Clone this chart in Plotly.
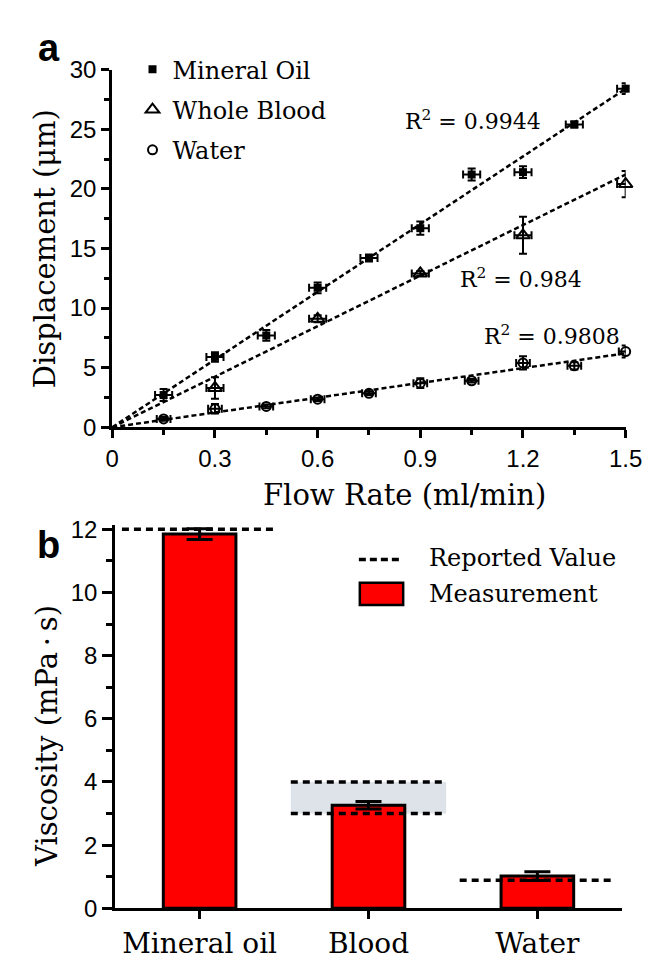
import plotly.graph_objects as go

W, H = 652, 958

# ---------------- data: panel a ----------------
flow = [0.15, 0.3, 0.45, 0.6, 0.75, 0.9, 1.05, 1.2, 1.35, 1.5]
oil_disp = [2.7, 5.9, 7.7, 11.7, 14.2, 16.7, 21.2, 21.4, 25.4, 28.4]
oil_yerr = [0.5, 0.4, 0.45, 0.45, 0.3, 0.55, 0.5, 0.5, 0.25, 0.45]
oil_xerr = [0.025, 0.025, 0.025, 0.025, 0.025, 0.025, 0.025, 0.025, 0.025, 0.025]

blood_flow = [0.3, 0.6, 0.9, 1.2, 1.5]
blood_disp = [3.3, 9.1, 12.9, 16.1, 20.4]
blood_yerr = [0.9, 0.3, 0.2, 1.55, 1.1]
blood_xerr = [0.025, 0.025, 0.025, 0.025, 0.025]

water_disp = [0.7, 1.55, 1.75, 2.35, 2.85, 3.7, 3.9, 5.4, 5.15, 6.35]
water_yerr = [0.15, 0.4, 0.15, 0.15, 0.15, 0.4, 0.15, 0.55, 0.3, 0.5]
water_xerr = [0.02, 0.02, 0.02, 0.02, 0.02, 0.02, 0.02, 0.02, 0.02, 0.02]

fit_x = [0.0, 1.5]
oil_fit = [0.0, 28.4]
blood_fit = [0.0, 21.2]
water_fit = [0.0, 6.2]
r2_texts = ["R<sup>2</sup> = 0.9944", "R<sup>2</sup> = 0.984", "R<sup>2</sup> = 0.9808"]

flow_ticks = [0, 0.3, 0.6, 0.9, 1.2, 1.5]
flow_ticktext = ["0", "0.3", "0.6", "0.9", "1.2", "1.5"]
disp_ticks = [0, 5, 10, 15, 20, 25, 30]

# ---------------- data: panel b ----------------
fluids = ["Mineral oil", "Blood", "Water"]
visc = [11.85, 3.26, 1.02]
visc_err = [0.17, 0.12, 0.14]
reported_lo = [12.0, 3.0, 0.89]
reported_hi = [12.0, 4.0, 0.89]
visc_ticks = [0, 2, 4, 6, 8, 10, 12]

# ---------------- helpers ----------------
def px(x):
    return x / W

def py(y):
    return 1 - y / H

SERIF = "DejaVu Serif"
SANS = "Liberation Sans"
DASH = "5px,3px"

fig = go.Figure()

# fit lines (panel a)
for fy in (oil_fit, blood_fit, water_fit):
    fig.add_trace(go.Scatter(x=fit_x, y=fy, mode="lines", showlegend=False,
                             line=dict(color="black", width=2.5, dash=DASH),
                             xaxis="x", yaxis="y", hoverinfo="skip"))

err_style = dict(color="black", thickness=2, width=4)
fig.add_trace(go.Scatter(
    x=flow, y=oil_disp, mode="markers", name="Mineral Oil", legendgroup="g1",
    marker=dict(symbol="square", size=8, color="black"),
    error_y=dict(type="data", array=oil_yerr, **err_style),
    error_x=dict(type="data", array=oil_xerr, **err_style),
    cliponaxis=False, xaxis="x", yaxis="y"))
fig.add_trace(go.Scatter(
    x=blood_flow, y=blood_disp, mode="markers", name="Whole Blood", legendgroup="g2",
    marker=dict(symbol="triangle-up-open", size=12, color="black", line=dict(width=2, color="black")),
    error_y=dict(type="data", array=blood_yerr, **err_style),
    error_x=dict(type="data", array=blood_xerr, **err_style),
    cliponaxis=False, xaxis="x", yaxis="y"))
fig.add_trace(go.Scatter(
    x=flow, y=water_disp, mode="markers", name="Water", legendgroup="g3",
    marker=dict(symbol="circle-open", size=9, color="black", line=dict(width=2, color="black")),
    error_y=dict(type="data", array=water_yerr, **err_style),
    error_x=dict(type="data", array=water_xerr, **err_style),
    cliponaxis=False, xaxis="x", yaxis="y"))

# panel b bars
bar_x = list(range(len(fluids)))
fig.add_trace(go.Bar(
    x=bar_x, y=visc, width=0.43, showlegend=False,
    marker=dict(color="#ff0000", line=dict(color="black", width=3)),
    error_y=dict(type="data", array=visc_err, color="black", thickness=3, width=13),
    xaxis="x2", yaxis="y2", hoverinfo="skip"))

HALF = 0.46
for i, (lo, hi) in enumerate(zip(reported_lo, reported_hi)):
    levels = [lo] if lo == hi else [lo, hi]
    for v in levels:
        fig.add_trace(go.Scatter(
            x=[bar_x[i] - HALF, bar_x[i] + HALF], y=[v, v], mode="lines", showlegend=False,
            line=dict(color="black", width=3.5, dash="7px,5px"),
            xaxis="x2", yaxis="y2", hoverinfo="skip", cliponaxis=False))
    if lo != hi:
        fig.add_shape(type="rect", xref="x2", yref="y2",
                      x0=bar_x[i] - HALF, x1=bar_x[i] + HALF, y0=lo, y1=hi,
                      fillcolor="#dde3e8", line=dict(width=0), layer="below")

axis_common = dict(showgrid=False, zeroline=False, showline=True, linecolor="black",
                   linewidth=3, ticks="outside", tickcolor="black", tickwidth=3,
                   tickfont=dict(family=SANS, size=24, color="black"), mirror=False)

# bottom y axis: a little headroom so the 12 reference line is not clipped
Y2_TOP = 12.12
PX_PER_UNIT_B = (912 - 522) / 12.0

fig.update_layout(
    width=W, height=H, margin=dict(l=0, r=0, t=0, b=0),
    paper_bgcolor="white", plot_bgcolor="white",
    xaxis=dict(domain=[px(101), px(634)], range=[0, 1.5], anchor="y",
               tickvals=flow_ticks, ticktext=flow_ticktext, ticklen=8,
               minor=dict(dtick=0.15, ticklen=5, tickwidth=3, tickcolor="black", ticks="outside"),
               **axis_common),
    yaxis=dict(domain=[py(417), py(49)], range=[0, 30], anchor="x",
               tickvals=disp_ticks, ticklen=8,
               minor=dict(dtick=2.5, ticklen=5, tickwidth=3, tickcolor="black", ticks="outside"),
               **axis_common),
    xaxis2=dict(domain=[px(104), px(630)], range=[-0.5, 2.5], anchor="y2",
                tickvals=bar_x, ticktext=fluids, ticklen=8,
                **{k: v for k, v in axis_common.items() if k != "tickfont"},
                tickfont=dict(family=SERIF, size=28, color="black")),
    yaxis2=dict(domain=[py(912), py(912 - Y2_TOP * PX_PER_UNIT_B)], range=[0, Y2_TOP], anchor="x2",
                tickvals=visc_ticks, ticklen=10,
                minor=dict(dtick=1, ticklen=6, tickwidth=3, tickcolor="black", ticks="outside"),
                **axis_common),
    showlegend=True,
    legend=dict(x=px(122), y=py(26), xanchor="left", yanchor="top",
                font=dict(family=SERIF, size=24, color="black"),
                tracegroupgap=6, bgcolor="rgba(0,0,0,0)", itemsizing="trace"),
)

ann = []
# panel labels
ann.append(dict(x=px(35), y=py(27), text="<b>a</b>", font=dict(family=SANS, size=38, color="black")))
ann.append(dict(x=px(35), y=py(538), text="<b>b</b>", font=dict(family=SANS, size=38, color="black")))
# axis titles
ann.append(dict(x=px(32), y=py(233), text="Displacement (μm)", textangle=-90,
                font=dict(family=SERIF, size=29, color="black")))
ann.append(dict(x=px(404), y=py(487), text="Flow Rate (ml/min)",
                font=dict(family=SERIF, size=29, color="black")))
ann.append(dict(x=px(34), y=py(735), text="Viscosity (mPa\u2009·\u2009s)", textangle=-90,
                font=dict(family=SERIF, size=29, color="black")))
for a in ann:
    a.update(xref="paper", yref="paper", showarrow=False, xanchor="center", yanchor="middle")

# R^2 labels (data coordinates)
r2_x = [1.055, 1.195, 1.285]
r2_y = [25.8, 12.55, 7.77]
for t, xx, yy in zip(r2_texts, r2_x, r2_y):
    ann.append(dict(x=xx, y=yy, xref="x", yref="y", text=t, showarrow=False,
                    xanchor="center", yanchor="middle",
                    font=dict(family=SERIF, size=22, color="black")))

# panel b legend (drawn manually)
ann.append(dict(x=px(428), y=py(552), xref="paper", yref="paper", text="Reported Value",
                showarrow=False, xanchor="left", yanchor="middle",
                font=dict(family=SERIF, size=24, color="black")))
ann.append(dict(x=px(428), y=py(589), xref="paper", yref="paper", text="Measurement",
                showarrow=False, xanchor="left", yanchor="middle",
                font=dict(family=SERIF, size=24, color="black")))
fig.update_layout(annotations=ann)

fig.add_shape(type="line", xref="paper", yref="paper", x0=px(357), x1=px(401), y0=py(553), y1=py(553),
              line=dict(color="black", width=3.5, dash="7px,4px"))
fig.add_shape(type="rect", xref="paper", yref="paper", x0=px(358), x1=px(403), y0=py(600), y1=py(577),
              fillcolor="#ff0000", line=dict(color="black", width=2.5))

fig.write_html("out.html")
